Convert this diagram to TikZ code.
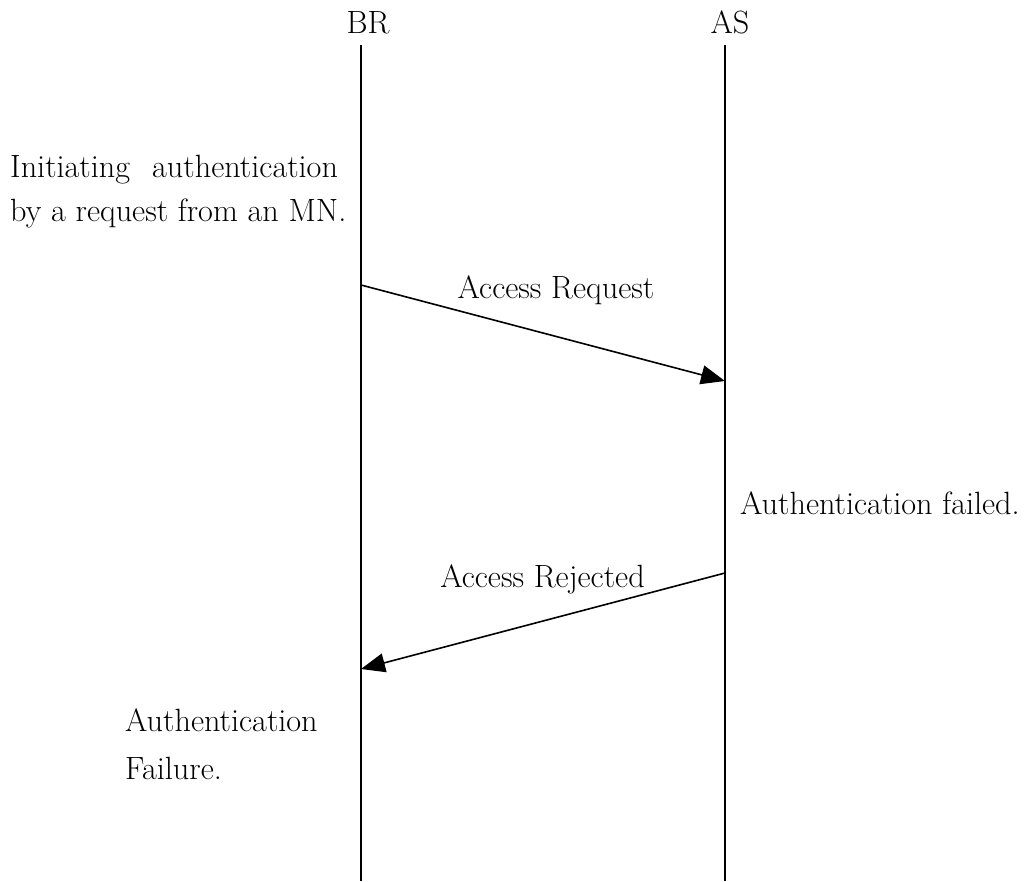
\documentclass[tikz,border=0pt]{standalone}
\usetikzlibrary{arrows.meta}
\begin{document}
\begin{tikzpicture}[x=1pt,y=-1pt,
  lbl/.style={inner sep=0pt,font=\fontsize{32.2}{38}\selectfont},
  life/.style={line width=1.6pt},
  msg/.style={line width=1.6pt,-{Triangle[length=24pt,width=19pt]}}]
\useasboundingbox (0,0) rectangle (1025,881);
% lifeline heads
\node[lbl,anchor=base] (br) at (368,33) {BR};
\node[lbl,anchor=base] (as) at (730,33) {AS};
\coordinate (brtop) at (361,45);
\coordinate (brbot) at (361,881);
\coordinate (astop) at (725,45);
\coordinate (asbot) at (725,881);
\draw[life] (brtop) -- (brbot);
\draw[life] (astop) -- (asbot);
% notes
\node[lbl,anchor=base west] (init1) at (10,177) {Initiating\hspace{22pt}authentication};
\node[lbl,anchor=base west] (init2) at (10,221) {by a request from an MN.};
\node[lbl,anchor=base west] (fail) at (740,514) {Authentication failed.};
\node[lbl,anchor=base west] (af1) at (125,731) {Authentication};
\node[lbl,anchor=base west] (af2) at (125,779) {Failure.};
% messages
\coordinate (m1s) at (361,285);
\coordinate (m1e) at (725,381);
\coordinate (m2s) at (725,573);
\coordinate (m2e) at (361,669);
\draw[msg] (m1s) -- (m1e);
\draw[msg] (m2s) -- (m2e);
\node[lbl,anchor=base] (req) at (556,298) {Access Request};
\node[lbl,anchor=base] (rej) at (542.5,587) {Access Rejected};
\end{tikzpicture}
\end{document}
